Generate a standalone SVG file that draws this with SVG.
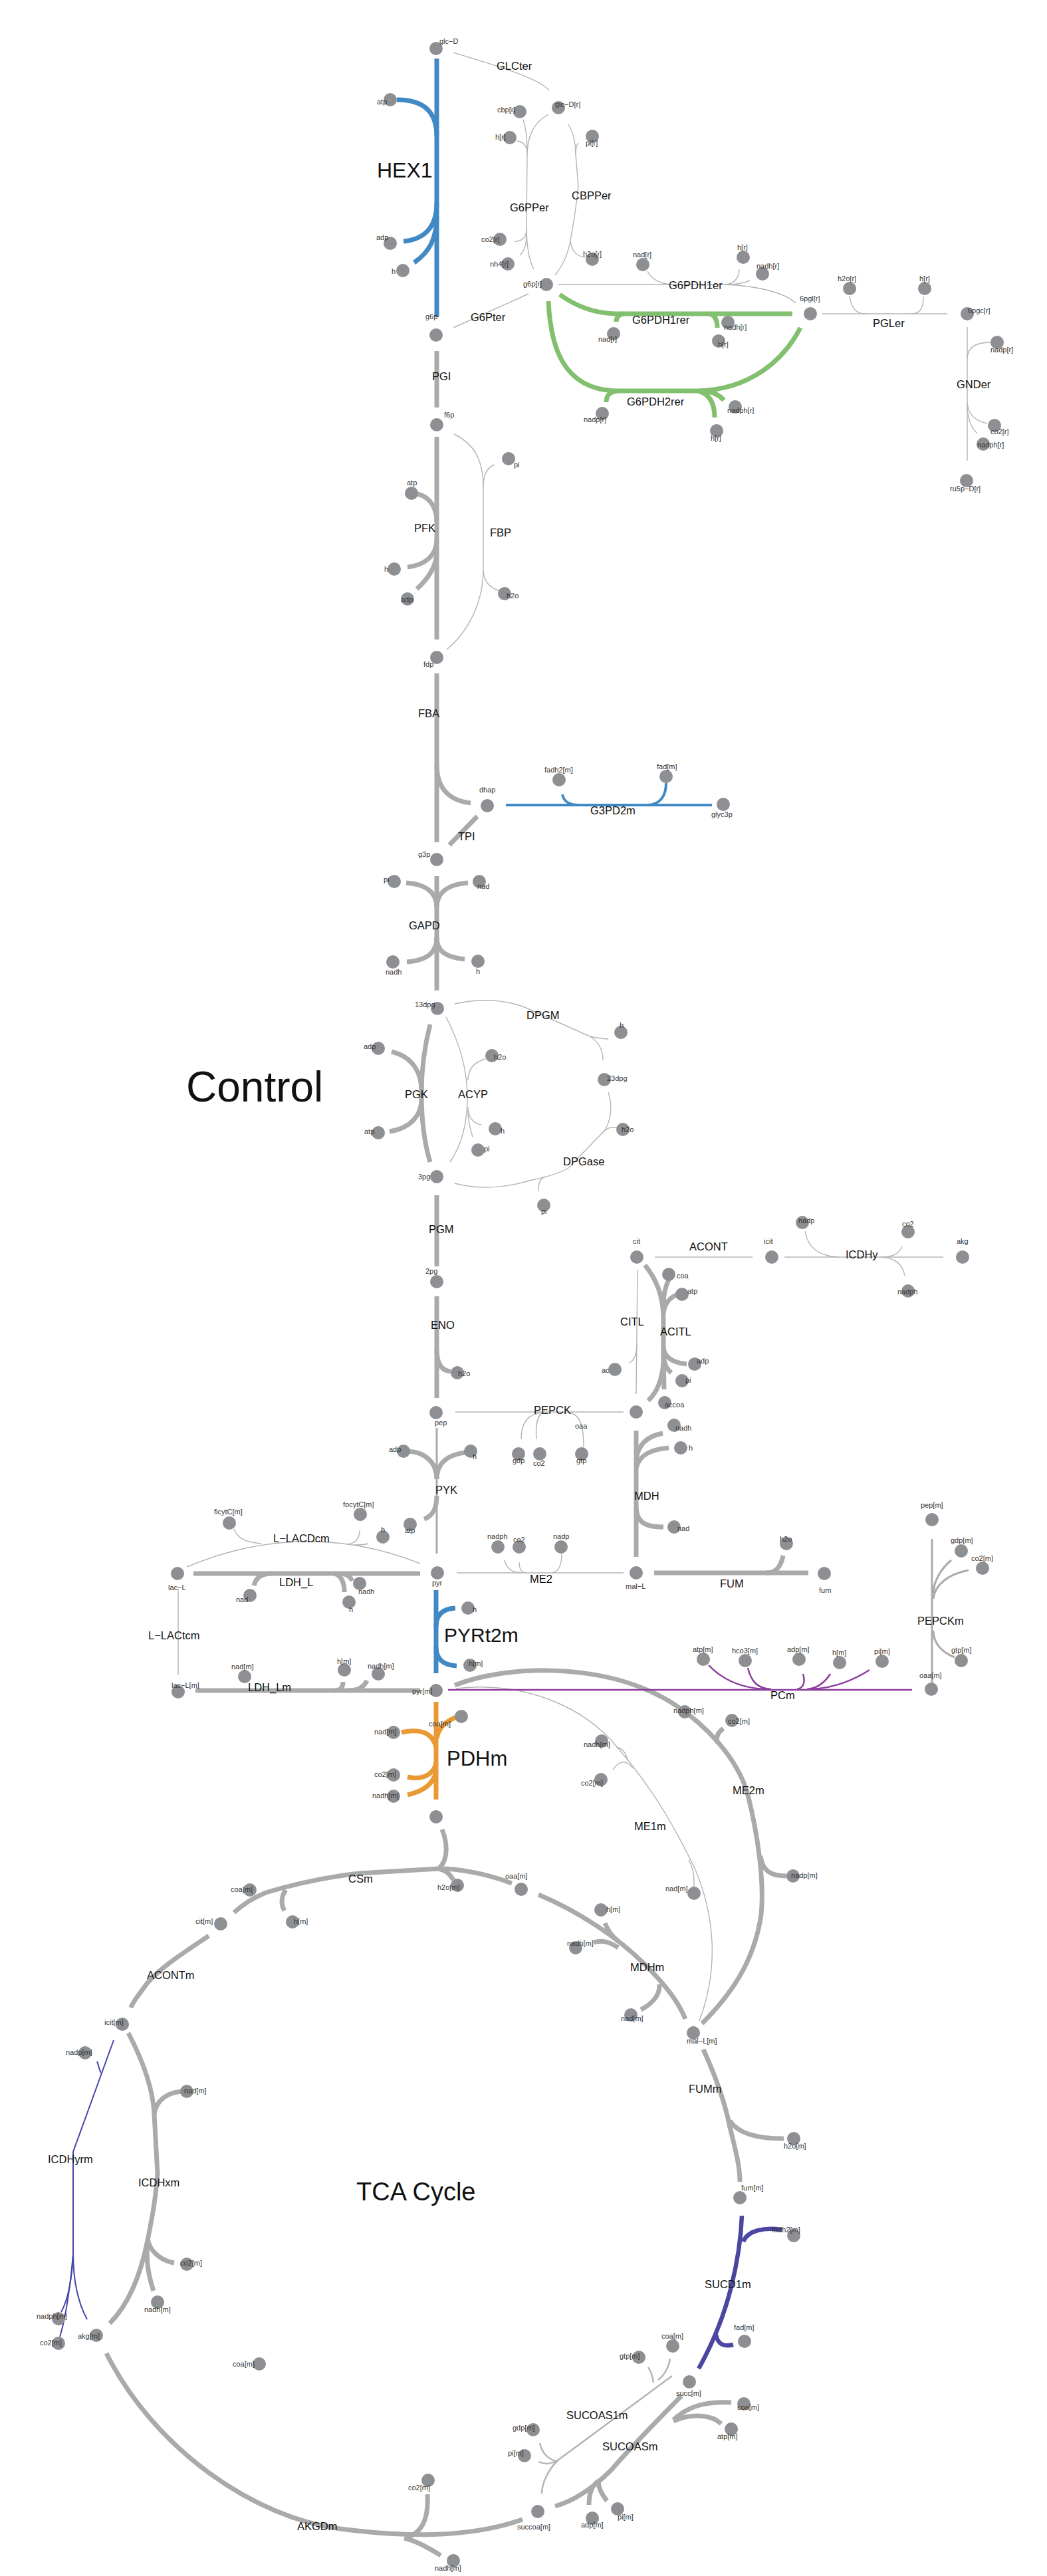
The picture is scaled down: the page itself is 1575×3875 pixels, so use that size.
<svg xmlns="http://www.w3.org/2000/svg" width="1575" height="3875" viewBox="0 0 1575 3875">
<style>
.c{fill:#8e8f93}
.ml{font-family:"Liberation Sans",Arial,sans-serif;font-size:11px;fill:#333}
.rl{font-family:"Liberation Sans",Arial,sans-serif;font-size:16.5px;fill:#111}
.big{font-family:"Liberation Sans",Arial,sans-serif;fill:#111}
.k{fill:none;stroke:#a9abaa;stroke-width:7}
.t{fill:none;stroke:#b4b4b4;stroke-width:1.4}
.m3{fill:none;stroke:#a9abaa;stroke-width:3}
.bl{fill:none;stroke:#4189c4;stroke-width:7}
.bl4{fill:none;stroke:#4189c4;stroke-width:4}
.gr{fill:none;stroke:#82bf6e;stroke-width:7}
.or{fill:none;stroke:#e99a35;stroke-width:7}
.pu{fill:none;stroke:#8b3d9e;stroke-width:2.5}
.in{fill:none;stroke:#4b46a0;stroke-width:6.5}
.in2{fill:none;stroke:#4545aa;stroke-width:2}
</style>
<rect width="1575" height="3875" fill="#fff"/>
<g id="connectors">
<g id="r-HEX1" class="bl"><path d="M657,88 L657,477"/><path d="M597,150 C637,150 657,168 657,205"/><path d="M607,363 C640,360 657,340 657,305"/><path d="M623,395 C645,380 657,360 657,325"/></g>
<g id="r-GLCter" class="t"><path d="M682,79 C745,98 812,118 826,136"/></g>
<g id="r-G6PPer" class="t"><path d="M825,172 C802,185 793,205 793,235 L792,340 C792,372 796,392 803,405"/><path d="M787,180 C791,192 793,205 793,225"/><path d="M778,212 C788,214 793,220 793,230"/><path d="M774,363 C785,363 792,358 792,345"/><path d="M782,384 C789,378 792,368 792,352"/></g>
<g id="r-CBPPer" class="t"><path d="M855,187 C863,200 866,215 866,232 L870,280 C866,320 861,345 858,362 C854,385 846,400 835,414"/><path d="M870,215 C867,218 866,224 866,232"/><path d="M880,387 C868,386 860,378 858,362"/></g>
<g id="r-G6Pter" class="t"><path d="M682,493 L795,442"/></g>
<g id="r-G6PDH1er" class="t"><path d="M840,428 L1090,428 C1140,430 1180,440 1197,456"/><path d="M974,408 C980,421 995,428 1014,428"/><path d="M1112,405 C1112,420 1102,428 1090,428"/><path d="M1128,422 C1116,427 1106,428 1096,428"/></g>
<g id="r-G6PDH1rer" class="gr"><path d="M842,443 C868,462 895,471 925,472 L1192,472"/><path d="M927,484 C927,477 931,472 940,472"/><path d="M1079,493 C1079,481 1075,473 1066,472"/></g>
<g id="r-G6PDH2rer" class="gr"><path d="M825,453 C828,520 846,585 925,588 L1050,588 C1130,586 1180,540 1204,493"/><path d="M912,605 C912,594 918,589 930,588"/><path d="M1075,628 C1075,605 1066,592 1050,588"/><path d="M1089,602 C1082,594 1072,589 1058,588"/></g>
<g id="r-PGLer" class="t"><path d="M1237,472 L1425,472"/><path d="M1278,445 C1280,464 1288,472 1302,472"/><path d="M1389,446 C1389,466 1383,472 1370,472"/></g>
<g id="r-GNDer" class="t"><path d="M1455,492 L1455,693"/><path d="M1490,515 C1468,515 1455,522 1455,540"/><path d="M1485,637 C1466,633 1456,622 1455,605"/><path d="M1470,652 C1460,643 1456,630 1455,612"/></g>
<g id="r-PGI" class="k"><path d="M657,528 L657,613"/></g>
<g id="r-PFK" class="k"><path d="M657,657 L657,962"/><path d="M628,743 C648,748 657,765 657,785"/><path d="M613,853 C640,850 657,835 657,812"/><path d="M627,886 C645,870 657,850 657,830"/></g>
<g id="r-FBP" class="t"><path d="M683,653 C712,667 727,690 727,733 L727,857 C727,905 705,950 672,977"/><path d="M744,699 C733,703 727,715 727,733"/><path d="M752,889 C738,885 727,875 727,857"/></g>
<g id="r-FBA" class="k"><path d="M657,1013 L657,1267"/><path d="M657,1150 C657,1190 680,1205 708,1208"/></g>
<g id="r-TPI" class="k"><path d="M718,1228 L676,1271"/></g>
<g id="r-G3PD2m" class="bl4"><path d="M761,1211 L1071,1211"/><path d="M846,1195 C848,1206 856,1211 872,1211"/><path d="M1002,1178 C1002,1196 994,1210 975,1211"/></g>
<g id="r-GAPD" class="k"><path d="M657,1318 L657,1490"/><path d="M611,1328 C640,1330 657,1342 657,1365"/><path d="M704,1328 C675,1330 657,1342 657,1365"/><path d="M612,1447 C640,1445 657,1435 657,1410"/><path d="M699,1443 C672,1440 657,1432 657,1410"/></g>
<g id="r-PGK" class="k"><path d="M647,1541 C637,1580 634,1615 634,1645 C634,1680 637,1715 647,1748"/><path d="M589,1582 C622,1590 634,1615 634,1640"/><path d="M586,1702 C620,1697 634,1675 634,1655"/></g>
<g id="r-ACYP" class="t"><path d="M671,1530 C692,1570 703,1610 703,1650 C703,1690 695,1722 677,1748"/><path d="M730,1593 C712,1598 704,1610 704,1625"/><path d="M724,1692 C710,1690 704,1678 704,1665"/><path d="M711,1710 C706,1695 704,1680 704,1670"/></g>
<g id="r-DPGM" class="t"><path d="M684,1510 C730,1500 770,1505 800,1520 L885,1558 C900,1566 907,1578 907,1595"/><path d="M915,1563 C903,1562 895,1561 887,1559"/></g>
<g id="r-DPGase" class="t"><path d="M915,1643 C921,1662 920,1682 910,1700 L855,1757 C840,1766 820,1771 800,1775 C760,1787 720,1790 684,1780"/><path d="M929,1696 C918,1695 912,1697 906,1705"/><path d="M810,1792 C810,1780 812,1773 820,1770"/></g>
<g id="r-PGM" class="k"><path d="M657,1798 L657,1905"/></g>
<g id="r-ENO" class="k"><path d="M657,1950 L657,2103"/><path d="M678,2063 C665,2062 657,2052 657,2030"/></g>
<g id="r-CITL" class="t"><path d="M959,1910 C958,1950 958,2000 957,2097"/><path d="M947,2050 C955,2046 958,2036 958,2022"/></g>
<g id="r-ACITL" class="k"><path d="M970,1903 C988,1925 998,1950 998,1985 L998,2050 C996,2075 988,2095 975,2107"/><path d="M998,2040 L999,2090"/><path d="M1006,1925 C1000,1937 998,1948 998,1962"/><path d="M1020,1947 C1006,1952 999,1962 998,1977"/><path d="M1033,2052 C1010,2050 999,2040 998,2027"/><path d="M1010,2065 C1003,2060 999,2050 998,2040"/></g>
<g id="r-ACONT" class="t"><path d="M985,1891 L1132,1891"/></g>
<g id="r-ICDHy" class="t"><path d="M1180,1891 L1419,1891"/><path d="M1211,1852 C1215,1876 1232,1890 1262,1891"/><path d="M1357,1875 C1352,1887 1342,1891 1325,1891"/><path d="M1361,1919 C1358,1901 1345,1892 1325,1891"/></g>
<g id="r-PEPCK" class="t"><path d="M685,2124 L938,2124"/><path d="M784,2165 C784,2140 795,2126 817,2125"/><path d="M807,2165 C805,2140 810,2128 817,2125"/><path d="M878,2177 C878,2150 875,2130 858,2125"/></g>
<g id="r-PYK"><path class="m3" d="M657,2148 L657,2337"/><path class="k" d="M615,2183 C640,2185 657,2200 657,2225"/><path class="k" d="M700,2185 C675,2188 657,2200 657,2225"/><path class="k" d="M638,2285 C652,2280 657,2268 657,2250"/></g>
<g id="r-L-LACDcm" class="t"><path d="M281,2357 Q457,2283 632,2352"/><path d="M352,2300 C358,2315 370,2320 393,2322"/><path d="M541,2302 C541,2315 535,2322 521,2323"/><path d="M554,2322 C548,2324 540,2324 532,2324"/></g>
<g id="r-LDH_L" class="k"><path d="M291,2367 L632,2367"/><path d="M382,2385 C385,2372 395,2367 409,2367"/><path d="M518,2395 C518,2380 513,2370 503,2367"/><path d="M530,2378 C527,2372 522,2368 514,2367"/></g>
<g id="r-L-LACtcm" class="t"><path d="M268,2390 L268,2520"/></g>
<g id="r-LDH_Lm" class="k"><path d="M294,2543 L632,2543"/><path d="M516,2530 C516,2539 512,2543 502,2543"/><path d="M552,2528 C547,2539 537,2543 524,2543"/></g>
<g id="r-PYRt2m" class="bl"><path d="M656,2392 L656,2517"/><path d="M685,2419 C665,2420 656,2430 656,2447"/><path d="M687,2506 C666,2505 656,2495 656,2478"/></g>
<g id="r-ME2" class="t"><path d="M687,2366 L938,2366"/><path d="M759,2347 C762,2360 770,2366 785,2366"/><path d="M781,2350 C781,2360 785,2366 792,2366"/><path d="M845,2337 C845,2355 840,2365 830,2366"/></g>
<g id="r-MDH" class="k"><path d="M957,2152 L957,2342"/><path d="M997,2156 C975,2160 960,2172 957,2195"/><path d="M1006,2178 C980,2180 962,2188 957,2208"/><path d="M998,2297 C970,2297 958,2290 957,2268"/></g>
<g id="r-FUM" class="k"><path d="M984,2366 L1216,2366"/><path d="M1178,2340 C1175,2356 1168,2366 1152,2366"/></g>
<g id="r-PEPCKm" class="m3"><path d="M1402,2315 L1402,2533"/><path d="M1431,2347 C1415,2360 1404,2380 1404,2397"/><path d="M1457,2362 C1425,2368 1406,2385 1404,2405"/><path d="M1436,2493 C1415,2485 1404,2470 1404,2453"/></g>
<g id="r-ME2m" class="k"><path d="M684,2535 C760,2505 900,2500 1000,2555 C1060,2590 1110,2645 1125,2700 C1140,2760 1150,2830 1145,2880 C1135,2950 1100,3000 1056,3044"/><path d="M1088,2600 C1080,2606 1077,2612 1079,2622"/><path d="M1183,2822 C1160,2822 1147,2815 1144,2792"/></g>
<g id="r-ME1m" class="t"><path d="M686,2540 C790,2528 880,2568 930,2630 C990,2700 1020,2760 1045,2810 C1075,2880 1082,2960 1052,3040"/><path d="M927,2628 C937,2630 942,2638 944,2648"/><path d="M922,2662 C930,2650 942,2645 952,2660"/><path d="M1044,2838 C1045,2822 1042,2808 1036,2798"/></g>
<g id="r-PCm" class="pu"><path d="M674,2542 L1372,2542"/><path d="M1066,2505 C1090,2530 1120,2540 1153,2541"/><path d="M1125,2509 C1130,2530 1140,2540 1160,2541"/><path d="M1208,2518 C1212,2531 1208,2540 1199,2541"/><path d="M1249,2518 C1240,2532 1228,2540 1214,2541"/><path d="M1308,2512 C1280,2530 1250,2540 1218,2541"/></g>
<g id="r-PDHm" class="or"><path d="M656,2560 L656,2707"/><path d="M686,2583 C670,2590 660,2598 657,2615"/><path d="M604,2606 C630,2600 650,2605 656,2628"/><path d="M613,2673 C635,2678 652,2670 656,2652"/><path d="M613,2700 C635,2695 652,2685 656,2665"/></g>
<g id="r-CSm" class="k"><path d="M770,2833 C730,2818 690,2811 660,2811 L540,2818 C480,2825 430,2838 400,2847 C380,2855 365,2865 352,2877"/><path d="M665,2752 C673,2772 675,2797 660,2811"/><path d="M682,2828 C676,2818 670,2813 662,2812"/><path d="M428,2874 C422,2865 423,2852 430,2843"/></g>
<g id="r-MDHm" class="k"><path d="M810,2850 C870,2875 930,2915 970,2955 C1000,2985 1020,3010 1031,3037"/><path d="M910,2893 C915,2905 920,2912 930,2920"/><path d="M893,2922 C906,2918 917,2921 930,2930"/><path d="M964,3023 C980,3015 993,3002 992,2985"/></g>
<g id="r-FUMm" class="k"><path d="M1058,3083 C1075,3120 1090,3160 1098,3200 C1108,3240 1113,3260 1113,3282"/><path d="M1179,3217 C1140,3217 1110,3210 1098,3190"/></g>
<g id="r-SUCD1m" class="in"><path d="M1116,3333 C1115,3360 1110,3400 1100,3440 C1090,3480 1075,3520 1051,3563"/><path d="M1176,3354 C1150,3350 1125,3355 1118,3372"/><path d="M1103,3527 C1090,3530 1080,3528 1077,3512"/></g>
<g id="r-SUCOAS1m" class="t" style="stroke-width:2.5"><path d="M1011,3574 L839,3701 C825,3715 815,3735 815,3751"/><path d="M1008,3548 C1006,3562 1000,3572 990,3580"/><path d="M975,3561 C980,3568 982,3576 983,3584"/><path d="M812,3675 C815,3690 825,3700 839,3703"/><path d="M810,3703 C820,3708 830,3706 839,3701"/></g>
<g id="r-SUCOASm" class="k"><path d="M1025,3604 C990,3640 950,3680 920,3715 C890,3745 860,3763 835,3770"/><path d="M1100,3614 C1060,3612 1035,3620 1013,3640"/><path d="M1085,3646 C1070,3632 1040,3630 1013,3642"/><path d="M886,3768 C886,3750 890,3740 900,3732"/><path d="M913,3762 C905,3752 900,3742 900,3732"/></g>
<g id="r-AKGDm" class="k"><path d="M160,3540 C230,3680 380,3790 520,3805 C600,3815 700,3820 786,3790"/><path d="M643,3752 C645,3790 635,3810 610,3818"/><path d="M663,3844 C640,3830 625,3822 608,3818"/></g>
<g id="r-ACONTm" class="k"><path d="M314,2912 C280,2935 240,2960 220,2985 C210,3000 200,3010 197,3020"/></g>
<g id="r-ICDHxm" class="k"><path d="M193,3058 C215,3100 230,3140 232,3180 L237,3270 C234,3310 228,3340 222,3370 C210,3430 190,3470 165,3495"/><path d="M274,3146 C250,3148 235,3160 232,3180"/><path d="M262,3404 C240,3400 225,3385 222,3368"/><path d="M231,3446 C222,3420 220,3395 222,3375"/></g>
<g id="r-ICDHyrm" class="in2"><path d="M171,3069 L110,3237 L110,3389 C110,3430 118,3465 131,3489"/><path d="M146,3101 C149,3108 149,3114 152,3118"/><path d="M110,3392 C108,3430 102,3460 92,3478"/><path d="M110,3392 C106,3440 98,3490 90,3515"/></g>
</g>
<g id="reaction-labels">
<text class="big" x="567" y="267" font-size="32">HEX1</text>
<text class="rl" x="747" y="105">GLCter</text>
<text class="rl" x="767" y="318">G6PPer</text>
<text class="rl" x="860" y="300">CBPPer</text>
<text class="rl" x="708" y="483">G6Pter</text>
<text class="rl" x="1006" y="435">G6PDH1er</text>
<text class="rl" x="951" y="487">G6PDH1rer</text>
<text class="rl" x="943" y="610">G6PDH2rer</text>
<text class="rl" x="1313" y="492">PGLer</text>
<text class="rl" x="1439" y="584">GNDer</text>
<text class="rl" x="650" y="572">PGI</text>
<text class="rl" x="623" y="800">PFK</text>
<text class="rl" x="737" y="807">FBP</text>
<text class="rl" x="629" y="1079">FBA</text>
<text class="rl" x="689" y="1264">TPI</text>
<text class="rl" x="888" y="1225">G3PD2m</text>
<text class="rl" x="615" y="1398">GAPD</text>
<text class="rl" x="609" y="1652">PGK</text>
<text class="rl" x="689" y="1652">ACYP</text>
<text class="rl" x="792" y="1533">DPGM</text>
<text class="rl" x="847" y="1753">DPGase</text>
<text class="rl" x="645" y="1855">PGM</text>
<text class="rl" x="648" y="1999">ENO</text>
<text class="rl" x="933" y="1994">CITL</text>
<text class="rl" x="993" y="2009">ACITL</text>
<text class="rl" x="1037" y="1881">ACONT</text>
<text class="rl" x="1272" y="1893">ICDHy</text>
<text class="rl" x="803" y="2127">PEPCK</text>
<text class="rl" x="655" y="2247">PYK</text>
<text class="rl" x="411" y="2320">L−LACDcm</text>
<text class="rl" x="420" y="2386">LDH_L</text>
<text class="rl" x="223" y="2466">L−LACtcm</text>
<text class="rl" x="373" y="2544">LDH_Lm</text>
<text class="big" x="668" y="2470" font-size="30">PYRt2m</text>
<text class="rl" x="797" y="2381">ME2</text>
<text class="rl" x="954" y="2256">MDH</text>
<text class="rl" x="1083" y="2388">FUM</text>
<text class="rl" x="1380" y="2444">PEPCKm</text>
<text class="rl" x="1159" y="2556">PCm</text>
<text class="big" x="672" y="2656" font-size="31">PDHm</text>
<text class="rl" x="954" y="2753">ME1m</text>
<text class="rl" x="1102" y="2699">ME2m</text>
<text class="rl" x="524" y="2832">CSm</text>
<text class="rl" x="948" y="2965">MDHm</text>
<text class="rl" x="1036" y="3148">FUMm</text>
<text class="rl" x="1060" y="3442">SUCD1m</text>
<text class="rl" x="852" y="3639">SUCOAS1m</text>
<text class="rl" x="906" y="3686">SUCOASm</text>
<text class="rl" x="447" y="3806">AKGDm</text>
<text class="rl" x="221" y="2977">ACONTm</text>
<text class="rl" x="208" y="3289">ICDHxm</text>
<text class="rl" x="72" y="3254">ICDHyrm</text>
<text class="big" x="280" y="1657" font-size="64">Control</text>
<text class="big" x="536" y="3310" font-size="38">TCA Cycle</text>
</g>
<g id="nodes">
<g id="n1"><circle class="c" cx="656" cy="73" r="10"/><text class="ml" x="661" y="66">glc−D</text></g>
<g id="n2"><circle class="c" cx="840" cy="162" r="10"/><text class="ml" x="835" y="161">glc−D[r]</text></g>
<g id="n3"><circle class="c" cx="782" cy="168" r="10"/><text class="ml" x="748" y="169">cbp[r]</text></g>
<g id="n4"><circle class="c" cx="767" cy="207" r="10"/><text class="ml" x="745" y="210">h[r]</text></g>
<g id="n5"><circle class="c" cx="891" cy="205" r="10"/><text class="ml" x="881" y="219">pi[r]</text></g>
<g id="n6"><circle class="c" cx="587" cy="150" r="10"/><text class="ml" x="567" y="157">atp</text></g>
<g id="n7"><circle class="c" cx="587" cy="366" r="10"/><text class="ml" x="566" y="361">adp</text></g>
<g id="n8"><circle class="c" cx="606" cy="407" r="10"/><text class="ml" x="589" y="412">h</text></g>
<g id="n9"><circle class="c" cx="656" cy="504" r="10"/><text class="ml" x="640" y="480">g6p</text></g>
<g id="n10"><circle class="c" cx="752" cy="360" r="10"/><text class="ml" x="724" y="364">co2[r]</text></g>
<g id="n11"><circle class="c" cx="764" cy="397" r="10"/><text class="ml" x="737" y="401">nh4[r]</text></g>
<g id="n12"><circle class="c" cx="891" cy="390" r="10"/><text class="ml" x="877" y="386">h2o[r]</text></g>
<g id="n13"><circle class="c" cx="822" cy="428" r="10"/><text class="ml" x="787" y="431">g6p[r]</text></g>
<g id="n14"><circle class="c" cx="967" cy="398" r="10"/><text class="ml" x="952" y="387">nad[r]</text></g>
<g id="n15"><circle class="c" cx="1118" cy="387" r="10"/><text class="ml" x="1109" y="376">h[r]</text></g>
<g id="n16"><circle class="c" cx="1147" cy="412" r="10"/><text class="ml" x="1138" y="404">nadh[r]</text></g>
<g id="n17"><circle class="c" cx="923" cy="502" r="10"/><text class="ml" x="900" y="514">nad[r]</text></g>
<g id="n18"><circle class="c" cx="1095" cy="485" r="10"/><text class="ml" x="1089" y="496">nadh[r]</text></g>
<g id="n19"><circle class="c" cx="1081" cy="513" r="10"/><text class="ml" x="1080" y="522">h[r]</text></g>
<g id="n20"><circle class="c" cx="1219" cy="472" r="10"/><text class="ml" x="1203" y="453">6pgl[r]</text></g>
<g id="n21"><circle class="c" cx="906" cy="622" r="10"/><text class="ml" x="878" y="635">nadp[r]</text></g>
<g id="n22"><circle class="c" cx="1106" cy="612" r="10"/><text class="ml" x="1094" y="621">nadph[r]</text></g>
<g id="n23"><circle class="c" cx="1078" cy="648" r="10"/><text class="ml" x="1069" y="663">h[r]</text></g>
<g id="n24"><circle class="c" cx="1278" cy="434" r="10"/><text class="ml" x="1260" y="423">h2o[r]</text></g>
<g id="n25"><circle class="c" cx="1391" cy="434" r="10"/><text class="ml" x="1383" y="423">h[r]</text></g>
<g id="n26"><circle class="c" cx="1455" cy="472" r="10"/><text class="ml" x="1456" y="471">6pgc[r]</text></g>
<g id="n27"><circle class="c" cx="1500" cy="515" r="10"/><text class="ml" x="1490" y="530">nadp[r]</text></g>
<g id="n28"><circle class="c" cx="1496" cy="640" r="10"/><text class="ml" x="1490" y="653">co2[r]</text></g>
<g id="n29"><circle class="c" cx="1479" cy="668" r="10"/><text class="ml" x="1470" y="673">nadph[r]</text></g>
<g id="n30"><circle class="c" cx="1454" cy="723" r="10"/><text class="ml" x="1429" y="739">ru5p−D[r]</text></g>
<g id="n31"><circle class="c" cx="657" cy="639" r="10"/><text class="ml" x="668" y="628">f6p</text></g>
<g id="n32"><circle class="c" cx="619" cy="742" r="10"/><text class="ml" x="612" y="730">atp</text></g>
<g id="n33"><circle class="c" cx="593" cy="856" r="10"/><text class="ml" x="578" y="860">h</text></g>
<g id="n34"><circle class="c" cx="613" cy="901" r="10"/><text class="ml" x="603" y="906">adp</text></g>
<g id="n35"><circle class="c" cx="765" cy="690" r="10"/><text class="ml" x="773" y="703">pi</text></g>
<g id="n36"><circle class="c" cx="759" cy="893" r="10"/><text class="ml" x="762" y="900">h2o</text></g>
<g id="n37"><circle class="c" cx="657" cy="989" r="10"/><text class="ml" x="637" y="1003">fdp</text></g>
<g id="n38"><circle class="c" cx="733" cy="1212" r="10"/><text class="ml" x="721" y="1192">dhap</text></g>
<g id="n39"><circle class="c" cx="657" cy="1293" r="10"/><text class="ml" x="629" y="1289">g3p</text></g>
<g id="n40"><circle class="c" cx="841" cy="1173" r="10"/><text class="ml" x="819" y="1162">fadh2[m]</text></g>
<g id="n41"><circle class="c" cx="1002" cy="1168" r="10"/><text class="ml" x="988" y="1157">fad[m]</text></g>
<g id="n42"><circle class="c" cx="1088" cy="1210" r="10"/><text class="ml" x="1070" y="1229">glyc3p</text></g>
<g id="n43"><circle class="c" cx="593" cy="1326" r="10"/><text class="ml" x="577" y="1327">pi</text></g>
<g id="n44"><circle class="c" cx="721" cy="1326" r="10"/><text class="ml" x="718" y="1337">nad</text></g>
<g id="n45"><circle class="c" cx="591" cy="1447" r="10"/><text class="ml" x="580" y="1466">nadh</text></g>
<g id="n46"><circle class="c" cx="719" cy="1446" r="10"/><text class="ml" x="716" y="1465">h</text></g>
<g id="n47"><circle class="c" cx="658" cy="1517" r="10"/><text class="ml" x="624" y="1515">13dpg</text></g>
<g id="n48"><circle class="c" cx="569" cy="1577" r="10"/><text class="ml" x="547" y="1578">adp</text></g>
<g id="n49"><circle class="c" cx="569" cy="1704" r="10"/><text class="ml" x="548" y="1706">atp</text></g>
<g id="n50"><circle class="c" cx="740" cy="1588" r="10"/><text class="ml" x="743" y="1594">h2o</text></g>
<g id="n51"><circle class="c" cx="745" cy="1698" r="10"/><text class="ml" x="753" y="1705">h</text></g>
<g id="n52"><circle class="c" cx="719" cy="1730" r="10"/><text class="ml" x="728" y="1732">pi</text></g>
<g id="n53"><circle class="c" cx="934" cy="1553" r="10"/><text class="ml" x="932" y="1546">h</text></g>
<g id="n54"><circle class="c" cx="909" cy="1624" r="10"/><text class="ml" x="913" y="1626">23dpg</text></g>
<g id="n55"><circle class="c" cx="937" cy="1699" r="10"/><text class="ml" x="935" y="1703">h2o</text></g>
<g id="n56"><circle class="c" cx="818" cy="1813" r="10"/><text class="ml" x="814" y="1826">pi</text></g>
<g id="n57"><circle class="c" cx="657" cy="1770" r="10"/><text class="ml" x="629" y="1774">3pg</text></g>
<g id="n58"><circle class="c" cx="657" cy="1928" r="10"/><text class="ml" x="640" y="1916">2pg</text></g>
<g id="n59"><circle class="c" cx="688" cy="2065" r="10"/><text class="ml" x="689" y="2070">h2o</text></g>
<g id="n60"><circle class="c" cx="958" cy="1891" r="10"/><text class="ml" x="952" y="1871">cit</text></g>
<g id="n61"><circle class="c" cx="1161" cy="1891" r="10"/><text class="ml" x="1149" y="1871">icit</text></g>
<g id="n62"><circle class="c" cx="1207" cy="1839" r="10"/><text class="ml" x="1201" y="1840">nadp</text></g>
<g id="n63"><circle class="c" cx="1366" cy="1853" r="10"/><text class="ml" x="1357" y="1845">co2</text></g>
<g id="n64"><circle class="c" cx="1366" cy="1942" r="10"/><text class="ml" x="1350" y="1947">nadph</text></g>
<g id="n65"><circle class="c" cx="1448" cy="1891" r="10"/><text class="ml" x="1439" y="1871">akg</text></g>
<g id="n66"><circle class="c" cx="1006" cy="1917" r="10"/><text class="ml" x="1018" y="1923">coa</text></g>
<g id="n67"><circle class="c" cx="1026" cy="1947" r="10"/><text class="ml" x="1034" y="1946">atp</text></g>
<g id="n68"><circle class="c" cx="1045" cy="2052" r="10"/><text class="ml" x="1048" y="2051">adp</text></g>
<g id="n69"><circle class="c" cx="1026" cy="2077" r="10"/><text class="ml" x="1031" y="2080">pi</text></g>
<g id="n70"><circle class="c" cx="1000" cy="2110" r="10"/><text class="ml" x="1000" y="2117">accoa</text></g>
<g id="n71"><circle class="c" cx="925" cy="2060" r="10"/><text class="ml" x="905" y="2065">ac</text></g>
<g id="n72"><circle class="c" cx="957" cy="2124" r="10"/><text class="ml" x="865" y="2149">oaa</text></g>
<g id="n73"><circle class="c" cx="1014" cy="2144" r="10"/><text class="ml" x="1016" y="2152">nadh</text></g>
<g id="n74"><circle class="c" cx="1024" cy="2178" r="10"/><text class="ml" x="1036" y="2182">h</text></g>
<g id="n75"><circle class="c" cx="656" cy="2125" r="10"/><text class="ml" x="654" y="2144">pep</text></g>
<g id="n76"><circle class="c" cx="780" cy="2187" r="10"/><text class="ml" x="771" y="2201">gdp</text></g>
<g id="n77"><circle class="c" cx="812" cy="2187" r="10"/><text class="ml" x="802" y="2205">co2</text></g>
<g id="n78"><circle class="c" cx="875" cy="2187" r="10"/><text class="ml" x="867" y="2201">gtp</text></g>
<g id="n79"><circle class="c" cx="607" cy="2183" r="10"/><text class="ml" x="585" y="2184">adp</text></g>
<g id="n80"><circle class="c" cx="708" cy="2183" r="10"/><text class="ml" x="711" y="2195">h</text></g>
<g id="n81"><circle class="c" cx="617" cy="2293" r="10"/><text class="ml" x="609" y="2306">atp</text></g>
<g id="n82"><circle class="c" cx="658" cy="2366" r="10"/><text class="ml" x="650" y="2385">pyr</text></g>
<g id="n83"><circle class="c" cx="345" cy="2291" r="10"/><text class="ml" x="322" y="2278">ficytC[m]</text></g>
<g id="n84"><circle class="c" cx="542" cy="2278" r="10"/><text class="ml" x="516" y="2267">focytC[m]</text></g>
<g id="n85"><circle class="c" cx="576" cy="2312" r="10"/><text class="ml" x="573" y="2305">h</text></g>
<g id="n86"><circle class="c" cx="267" cy="2367" r="10"/><text class="ml" x="253" y="2392">lac−L</text></g>
<g id="n87"><circle class="c" cx="376" cy="2400" r="10"/><text class="ml" x="355" y="2410">nad</text></g>
<g id="n88"><circle class="c" cx="541" cy="2382" r="10"/><text class="ml" x="539" y="2398">nadh</text></g>
<g id="n89"><circle class="c" cx="525" cy="2410" r="10"/><text class="ml" x="525" y="2425">h</text></g>
<g id="n90"><circle class="c" cx="749" cy="2327" r="10"/><text class="ml" x="733" y="2315">nadph</text></g>
<g id="n91"><circle class="c" cx="781" cy="2327" r="10"/><text class="ml" x="772" y="2320">co2</text></g>
<g id="n92"><circle class="c" cx="844" cy="2327" r="10"/><text class="ml" x="832" y="2315">nadp</text></g>
<g id="n93"><circle class="c" cx="957" cy="2366" r="10"/><text class="ml" x="941" y="2390">mal−L</text></g>
<g id="n94"><circle class="c" cx="1014" cy="2297" r="10"/><text class="ml" x="1019" y="2303">nad</text></g>
<g id="n95"><circle class="c" cx="1183" cy="2322" r="10"/><text class="ml" x="1173" y="2319">h2o</text></g>
<g id="n96"><circle class="c" cx="1240" cy="2367" r="10"/><text class="ml" x="1232" y="2396">fum</text></g>
<g id="n97"><circle class="c" cx="704" cy="2419" r="10"/><text class="ml" x="711" y="2425">h</text></g>
<g id="n98"><circle class="c" cx="707" cy="2505" r="10"/><text class="ml" x="705" y="2506">h[m]</text></g>
<g id="n99"><circle class="c" cx="268" cy="2545" r="10"/><text class="ml" x="258" y="2539">lac−L[m]</text></g>
<g id="n100"><circle class="c" cx="368" cy="2522" r="10"/><text class="ml" x="348" y="2511">nad[m]</text></g>
<g id="n101"><circle class="c" cx="518" cy="2512" r="10"/><text class="ml" x="507" y="2503">h[m]</text></g>
<g id="n102"><circle class="c" cx="569" cy="2518" r="10"/><text class="ml" x="553" y="2510">nadh[m]</text></g>
<g id="n103"><circle class="c" cx="656" cy="2543" r="10"/><text class="ml" x="620" y="2548">pyr[m]</text></g>
<g id="n104"><circle class="c" cx="1402" cy="2286" r="10"/><text class="ml" x="1385" y="2268">pep[m]</text></g>
<g id="n105"><circle class="c" cx="1446" cy="2333" r="10"/><text class="ml" x="1430" y="2321">gdp[m]</text></g>
<g id="n106"><circle class="c" cx="1478" cy="2359" r="10"/><text class="ml" x="1461" y="2348">co2[m]</text></g>
<g id="n107"><circle class="c" cx="1446" cy="2498" r="10"/><text class="ml" x="1431" y="2486">gtp[m]</text></g>
<g id="n108"><circle class="c" cx="1401" cy="2541" r="10"/><text class="ml" x="1383" y="2524">oaa[m]</text></g>
<g id="n109"><circle class="c" cx="1058" cy="2496" r="10"/><text class="ml" x="1042" y="2485">atp[m]</text></g>
<g id="n110"><circle class="c" cx="1121" cy="2498" r="10"/><text class="ml" x="1101" y="2487">hco3[m]</text></g>
<g id="n111"><circle class="c" cx="1202" cy="2496" r="10"/><text class="ml" x="1184" y="2485">adp[m]</text></g>
<g id="n112"><circle class="c" cx="1263" cy="2501" r="10"/><text class="ml" x="1252" y="2490">h[m]</text></g>
<g id="n113"><circle class="c" cx="1327" cy="2499" r="10"/><text class="ml" x="1315" y="2488">pi[m]</text></g>
<g id="n114"><circle class="c" cx="694" cy="2582" r="10"/><text class="ml" x="645" y="2597">coa[m]</text></g>
<g id="n115"><circle class="c" cx="592" cy="2606" r="10"/><text class="ml" x="563" y="2609">nad[m]</text></g>
<g id="n116"><circle class="c" cx="592" cy="2670" r="10"/><text class="ml" x="563" y="2673">co2[m]</text></g>
<g id="n117"><circle class="c" cx="592" cy="2702" r="10"/><text class="ml" x="560" y="2705">nadh[m]</text></g>
<g id="n118"><circle class="c" cx="656" cy="2733" r="10"/></g>
<g id="n119"><circle class="c" cx="1030" cy="2575" r="10"/><text class="ml" x="1013" y="2577">nadph[m]</text></g>
<g id="n120"><circle class="c" cx="1101" cy="2588" r="10"/><text class="ml" x="1095" y="2593">co2[m]</text></g>
<g id="n121"><circle class="c" cx="905" cy="2619" r="10"/><text class="ml" x="878" y="2628">nadh[m]</text></g>
<g id="n122"><circle class="c" cx="904" cy="2677" r="10"/><text class="ml" x="874" y="2686">co2[m]</text></g>
<g id="n123"><circle class="c" cx="1044" cy="2848" r="10"/><text class="ml" x="1001" y="2845">nad[m]</text></g>
<g id="n124"><circle class="c" cx="1193" cy="2822" r="10"/><text class="ml" x="1190" y="2825">nadp[m]</text></g>
<g id="n125"><circle class="c" cx="688" cy="2836" r="10"/><text class="ml" x="658" y="2843">h2o[m]</text></g>
<g id="n126"><circle class="c" cx="784" cy="2842" r="10"/><text class="ml" x="760" y="2826">oaa[m]</text></g>
<g id="n127"><circle class="c" cx="904" cy="2873" r="10"/><text class="ml" x="912" y="2876">h[m]</text></g>
<g id="n128"><circle class="c" cx="866" cy="2930" r="10"/><text class="ml" x="853" y="2927">nadh[m]</text></g>
<g id="n129"><circle class="c" cx="949" cy="3031" r="10"/><text class="ml" x="934" y="3040">nad[m]</text></g>
<g id="n130"><circle class="c" cx="1043" cy="3058" r="10"/><text class="ml" x="1033" y="3074">mal−L[m]</text></g>
<g id="n131"><circle class="c" cx="1194" cy="3217" r="10"/><text class="ml" x="1179" y="3232">h2o[m]</text></g>
<g id="n132"><circle class="c" cx="1113" cy="3306" r="10"/><text class="ml" x="1115" y="3295">fum[m]</text></g>
<g id="n133"><circle class="c" cx="1194" cy="3363" r="10"/><text class="ml" x="1161" y="3358">fadh2[m]</text></g>
<g id="n134"><circle class="c" cx="1120" cy="3522" r="10"/><text class="ml" x="1104" y="3505">fad[m]</text></g>
<g id="n135"><circle class="c" cx="1037" cy="3583" r="10"/><text class="ml" x="1017" y="3604">succ[m]</text></g>
<g id="n136"><circle class="c" cx="1012" cy="3529" r="10"/><text class="ml" x="995" y="3518">coa[m]</text></g>
<g id="n137"><circle class="c" cx="961" cy="3546" r="10"/><text class="ml" x="932" y="3548">gtp[m]</text></g>
<g id="n138"><circle class="c" cx="802" cy="3655" r="10"/><text class="ml" x="771" y="3656">gdp[m]</text></g>
<g id="n139"><circle class="c" cx="789" cy="3694" r="10"/><text class="ml" x="764" y="3694">pi[m]</text></g>
<g id="n140"><circle class="c" cx="1119" cy="3616" r="10"/><text class="ml" x="1109" y="3625">coa[m]</text></g>
<g id="n141"><circle class="c" cx="1100" cy="3654" r="10"/><text class="ml" x="1079" y="3669">atp[m]</text></g>
<g id="n142"><circle class="c" cx="891" cy="3788" r="10"/><text class="ml" x="874" y="3802">adp[m]</text></g>
<g id="n143"><circle class="c" cx="929" cy="3774" r="10"/><text class="ml" x="929" y="3790">pi[m]</text></g>
<g id="n144"><circle class="c" cx="809" cy="3778" r="10"/><text class="ml" x="778" y="3805">succoa[m]</text></g>
<g id="n145"><circle class="c" cx="644" cy="3731" r="10"/><text class="ml" x="614" y="3746">co2[m]</text></g>
<g id="n146"><circle class="c" cx="682" cy="3852" r="10"/><text class="ml" x="654" y="3867">nadh[m]</text></g>
<g id="n147"><circle class="c" cx="376" cy="2843" r="10"/><text class="ml" x="347" y="2846">coa[m]</text></g>
<g id="n148"><circle class="c" cx="440" cy="2891" r="10"/><text class="ml" x="442" y="2894">h[m]</text></g>
<g id="n149"><circle class="c" cx="332" cy="2894" r="10"/><text class="ml" x="294" y="2894">cit[m]</text></g>
<g id="n150"><circle class="c" cx="184" cy="3045" r="10"/><text class="ml" x="157" y="3046">icit[m]</text></g>
<g id="n151"><circle class="c" cx="281" cy="3146" r="10"/><text class="ml" x="277" y="3149">nad[m]</text></g>
<g id="n152"><circle class="c" cx="281" cy="3406" r="10"/><text class="ml" x="271" y="3408">co2[m]</text></g>
<g id="n153"><circle class="c" cx="237" cy="3463" r="10"/><text class="ml" x="217" y="3478">nadh[m]</text></g>
<g id="n154"><circle class="c" cx="145" cy="3513" r="10"/><text class="ml" x="117" y="3518">akg[m]</text></g>
<g id="n155"><circle class="c" cx="128" cy="3088" r="10"/><text class="ml" x="99" y="3091">nadp[m]</text></g>
<g id="n156"><circle class="c" cx="88" cy="3488" r="10"/><text class="ml" x="55" y="3488">nadph[m]</text></g>
<g id="n157"><circle class="c" cx="88" cy="3525" r="10"/><text class="ml" x="60" y="3528">co2[m]</text></g>
<g id="n158"><circle class="c" cx="390" cy="3556" r="10"/><text class="ml" x="350" y="3560">coa[m]</text></g>
</g>
</svg>
